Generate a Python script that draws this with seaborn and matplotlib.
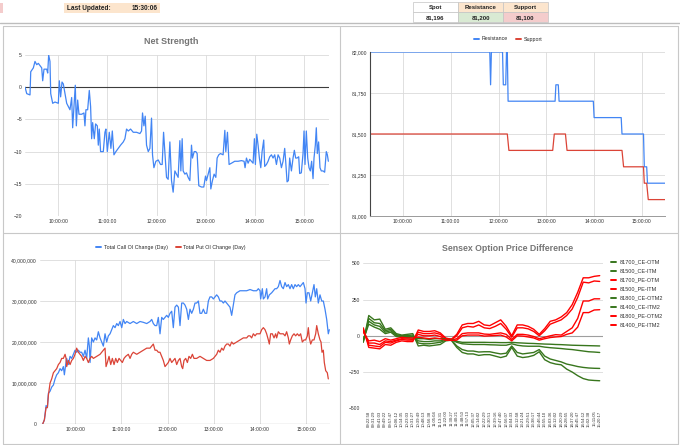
import matplotlib
matplotlib.use("Agg")
import matplotlib.pyplot as plt
import matplotlib.ticker as mticker
from matplotlib.lines import Line2D
from matplotlib.patches import Rectangle
import seaborn as sns

sns.set_theme(style="white")
plt.rcParams["font.family"] = ["Liberation Sans", "DejaVu Sans"]

# ---- data ----
# Net Strength (minutes after 09:00, value)
ns_min = [19.4, 21.4, 25.4, 26.3, 29.5, 31.5, 33.6, 35.6, 39.7, 40.9, 42.5, 45.8, 47.0, 48.2, 49.8,
          50.7, 53.1, 55.9, 60.0, 61.2, 62.8, 64.5, 66.1, 68.1, 70.2, 72.2, 74.2, 76.3, 77.5, 79.1,
          80.7, 82.0, 83.6, 85.2, 88.5, 91.3, 92.5, 93.7, 95.8, 97.8, 99.4, 100.7, 101.9, 103.9, 105.5,
          107.6, 108.8, 110.0, 111.6, 114.9, 116.9, 118.1, 119.8, 122.2, 124.2, 125.9, 127.9, 130.3,
          133.2, 136.0, 139.3, 141.3, 143.3, 145.4, 148.2, 151.5, 155.5, 159.6, 161.6, 162.8, 164.5,
          166.1, 167.7, 169.8, 171.8, 173.8, 175.0, 176.7, 179.1, 182.0, 184.8, 186.8, 188.5, 190.1,
          192.1, 194.1, 196.2, 198.2, 200.2, 202.3, 204.3, 206.3, 208.4, 209.6, 211.2, 212.4, 214.5,
          216.5, 218.5, 220.6, 222.6, 223.8, 225.9, 227.9, 229.5, 231.5, 234.8, 237.6, 239.7, 240.9,
          242.9, 245.0, 246.2, 248.2, 250.2, 252.3, 253.9, 255.9, 258.0, 261.2, 263.3, 264.5, 266.5,
          268.5, 271.4, 275.4, 279.5, 283.6, 286.8, 288.0, 289.7, 291.7, 293.7, 295.8, 297.8, 299.4,
          300.6, 302.3, 303.9, 305.5, 307.2, 308.8, 310.8, 312.0, 314.1, 316.1, 318.1, 320.2, 322.2,
          324.2, 326.3, 328.3, 330.3, 332.4, 334.4, 336.4, 337.6, 339.3, 340.9, 342.5, 344.6, 346.6,
          348.2, 349.8, 351.5, 353.5, 354.7, 356.7, 358.8, 360.0, 361.2, 362.8, 364.5, 366.1, 367.7,
          369.3, 371.0, 372.2, 373.8, 375.0, 376.2, 377.8, 379.5, 381.1, 383.2, 385.2, 387.2, 388.5,
          389.7]
ns_val = [0, -1, -1.2, 2.4, 3, 4, 3.5, 3.7, 3, 1, 2.8, 2.8, 2.2, 5, 4,
          -1, -2.5, -2.3, -2.5, 1, -1.5, 0.8, 0.5, -1, -2.5, -3, -3.5, -1.6, -6.3, -3,
          0.3, -6, -2, -4.2, -4.2, -4, -6, -3.5, -3.5, -0.5, -3, -8, -5.5, -8, -5.7,
          -6, -9, -6.5, -10, -10, -7, -6.5, -10, -7, -9.5, -6.8, -10.5, -10,
          -9.5, -9, -8.5, -8, -6.5, -6.8, -6.5, -7, -7, -7.2, -6.8, -4, -6,
          -4.5, -9, -10, -9.5, -4.8, -10.5, -12.5, -11.5, -11.3, -12, -12, -7, -10,
          -14, -14.3, -8.5, -14.5, -16.3, -13, -13.5, -14, -8.3, -13, -8, -13, -13.5,
          -13.3, -14, -14.5, -9, -11, -10, -10, -10.3, -15.3, -15.5, -15.5, -13.8, -14.5,
          -13.5, -12.5, -15.8, -14.5, -13.5, -14, -11, -10.5, -10.3, -10.5, -6.7, -10, -7,
          -12, -11.8, -11.5, -11.5, -11.4, -11.5, -12.5, -11, -11.8, -11.2, -11.5, -11.8, -8,
          -12, -7.3, -9, -11, -12.5, -10, -8.2, -12.3, -12, -11.5, -10.8, -10.5, -11,
          -10.5, -12, -10.5, -11, -12.5, -11.5, -9.5, -11.5, -14.7, -14.5, -11, -13, -11,
          -9.8, -11, -11, -10.8, -13.4, -13.3, -10.3, -6.8, -12, -6.8, -11, -12.5, -13,
          -11.5, -14.2, -11, -9, -6.3, -10.3, -8.5, -12.5, -13, -13, -13.2, -10, -10.5,
          -11.5]

# Resistance / Support levels (minutes after 09:00)
res_min = [19, 169, 170, 171, 185, 186, 189, 190, 191, 192, 251, 252, 255, 256, 299, 300,
           334, 335, 362, 363, 366, 367, 390]
res_val = [82000, 82000, 81800, 82000, 82000, 81800, 81800, 82000, 82000, 81700, 81700, 81800,
           81800, 81700, 81700, 81600, 81600, 81500, 81500, 81300, 81300, 81200, 81200]
sup_min = [19, 191, 193, 248, 250, 264, 266, 335, 337, 362, 363, 366, 368, 390]
sup_val = [81500, 81500, 81400, 81400, 81500, 81500, 81400, 81400, 81300, 81300, 81200, 81200,
           81100, 81100]

# Total Call OI change (minutes after 09:00, millions)
call_min = [17.5, 19.7, 21.9, 23.6, 24.9, 27.1, 29.2, 31.4, 33.6, 35.7, 37.9, 40.1, 42.2, 44.4,
            45.7, 47.4, 48.7, 50.9, 53.1, 55.2, 57.4, 59.6, 61.7, 63.9, 66.1, 68.2, 70.4, 72.6,
            74.7, 76.9, 78.2, 79.1, 81.2, 83.4, 85.6, 87.7, 89.9, 92.1, 96.4, 98.6, 100.7, 102.9,
            105.1, 107.3, 109.4, 111.6, 113.8, 115.9, 118.1, 120.3, 122.4, 124.6, 126.8, 131.1,
            135.4, 139.8, 144.1, 148.4, 152.8, 157.1, 159.3, 161.4, 163.6, 165.8, 167.9, 170.1,
            172.3, 174.4, 176.6, 178.8, 180.9, 183.1, 185.3, 187.4, 189.6, 191.8, 194.0, 196.1,
            198.3, 200.5, 202.6, 204.8, 207.0, 209.1, 211.3, 213.5, 215.6, 217.8, 220.0, 222.1,
            224.3, 226.5, 228.6, 230.8, 233.0, 235.1, 237.3, 239.5, 241.6, 243.8, 246.0, 248.1,
            250.3, 252.5, 254.6, 256.8, 261.1, 263.3, 265.5, 267.6, 269.8, 274.1, 278.5, 282.8,
            287.2, 291.5, 295.8, 298.0, 300.2, 301.0, 303.2, 304.5, 306.7, 308.8, 310.1, 312.3,
            315.3, 317.5, 319.7, 321.8, 324.0, 326.2, 328.3, 330.5, 332.7, 334.8, 337.0, 339.2,
            341.3, 343.5, 345.7, 347.8, 350.0, 352.2, 354.3, 356.5, 358.7, 360.0, 361.7, 363.9,
            366.1, 368.2, 370.4, 372.1, 373.9, 376.0, 378.2, 380.4, 382.5, 384.7, 386.9, 389.0,
            390.3]
call_mn = [0, 1, 4.5, 4, 7.5, 8, 9, 9.5, 11, 12, 12.5, 13.5, 13, 14,
           12, 14.5, 16, 14.5, 16.5, 16, 17, 18, 17.5, 18, 17.5, 17.5, 16.5, 18,
           16, 21, 19, 15, 21, 20, 21, 20.5, 22.5, 21, 19, 22, 20, 21.5,
           22, 23, 24, 23.5, 24.5, 24, 25, 23.5, 25.5, 24.5, 25, 24.5,
           25, 24.5, 25, 24.8, 24.5, 25, 25.5, 24.5, 24, 24, 26, 22,
           26, 25.5, 26, 26.5, 26, 27, 27.5, 23.5, 28.5, 29, 28.5, 24,
           29.5, 29.5, 29, 28, 25.5, 28, 27, 28, 29.5, 29.5, 30, 27,
           27, 28, 27, 27, 30, 31, 31, 30.5, 31, 31.5, 31, 30,
           30, 29.5, 30, 29.5, 28.5, 26.5, 29, 31.5, 32, 32.5, 32.5, 32.5,
           32.8, 32.5, 32.5, 33, 32.5, 30.5, 33, 30.5, 31, 33, 30.5, 31.5,
           32, 32.5, 33, 33, 33.5, 35, 33.5, 33, 34.5, 33.5, 34, 33,
           34, 33, 34, 33.5, 34, 33.5, 34, 34.5, 33, 29.5, 32, 32,
           30, 32, 34, 31, 33, 29.5, 31.5, 30, 30, 28, 25.5, 22,
           23]

# Total Put OI change (minutes after 09:00, millions)
put_min = [17.5, 19.7, 21.9, 23.6, 24.9, 27.1, 29.2, 31.4, 33.6, 35.7, 37.9, 40.1, 42.2, 44.4,
           46.6, 47.9, 48.7, 50.9, 53.1, 55.2, 57.4, 59.6, 61.7, 63.9, 66.1, 68.2, 70.4, 72.6,
           74.7, 76.9, 79.1, 81.2, 83.4, 87.7, 92.1, 94.2, 96.4, 98.6, 99.9, 101.6, 103.8, 106.0,
           108.1, 110.3, 112.5, 114.6, 116.8, 119.0, 121.1, 123.3, 125.5, 128.9, 131.1, 133.3,
           135.4, 139.8, 144.1, 148.4, 152.8, 157.1, 159.3, 161.4, 163.6, 165.8, 167.9, 170.1,
           172.3, 174.4, 176.6, 178.8, 180.9, 183.1, 185.3, 187.4, 189.6, 191.8, 194.0, 196.1,
           198.3, 199.6, 201.3, 203.5, 205.7, 207.8, 210.0, 212.2, 214.3, 217.8, 222.1, 226.5,
           230.8, 235.1, 239.5, 241.6, 243.8, 246.0, 248.1, 250.3, 252.5, 254.6, 256.8, 259.0,
           261.1, 263.3, 265.5, 269.8, 274.1, 278.5, 282.8, 285.0, 287.2, 289.3, 291.5, 293.7,
           295.8, 298.0, 300.2, 302.3, 304.5, 306.7, 308.8, 311.0, 312.3, 314.0, 316.2, 318.4,
           320.5, 321.8, 324.0, 326.2, 328.3, 330.5, 332.7, 334.8, 337.0, 338.3, 340.0, 342.2,
           344.4, 346.5, 348.7, 350.9, 353.0, 355.2, 357.4, 359.5, 361.7, 363.0, 364.3, 366.1,
           368.2, 370.4, 372.6, 373.9, 376.0, 378.2, 379.5, 380.8, 382.5, 383.8, 385.6, 387.7,
           389.0]
put_mn = [0, 1, 4, 4, 7, 10, 11, 12.5, 13, 13.5, 14.5, 15, 16, 16,
          17, 16, 14, 15.5, 14.5, 15.5, 16, 17, 18.5, 17.5, 17, 16.5, 15.5, 16.5,
          16, 15, 16, 16.5, 16, 16.5, 17, 17.5, 18, 18.5, 14, 15, 16.5, 14.5,
          16, 14.5, 16, 15, 16, 15.5, 15, 16, 16.5, 17, 16, 17,
          17.5, 17, 17.5, 18, 18.5, 18.5, 19, 19.5, 18, 18, 17.5, 17.5,
          16.5, 15.5, 14, 14.5, 15, 16, 15, 15.5, 16, 14.5, 15.5, 16,
          14, 13.5, 15.5, 16, 15, 16.5, 16, 17, 16, 16, 16.5, 16,
          15.5, 15.5, 16, 16.5, 17, 18, 17.5, 18.5, 18, 19, 19.5, 19.5,
          19, 20, 19.5, 20, 20.5, 21, 21, 21.5, 21.5, 21, 22, 21.5,
          22, 22, 22, 23, 23.5, 23, 22, 20.5, 19.5, 22, 22, 21,
          22, 21, 22.5, 22, 22, 22, 21.5, 22.5, 21, 19.5, 20.5, 21.5,
          22, 21.5, 22, 21.5, 22, 20, 20.5, 20.5, 21.5, 23.5, 21, 19.5,
          20.5, 20.5, 22, 24, 22, 20.5, 20, 17.5, 18, 15, 13, 12.5,
          11]

# Sensex option price difference (category axis of row timestamps)
opd_times = ["09:16:02", "09:22:58", "09:31:29", "09:41:03", "09:49:22", "09:57:47", "10:06:12",
             "10:14:35", "10:23:03", "10:31:27", "10:39:49", "10:48:13", "10:56:38", "11:05:04",
             "11:13:31", "11:22:00", "11:30:27", "11:40:21", "11:48:50", "11:57:13", "12:05:37",
             "12:14:02", "12:22:29", "12:30:51", "12:39:16", "12:47:40", "12:56:07", "13:04:33",
             "13:12:58", "13:21:24", "13:29:51", "13:38:17", "13:46:44", "13:55:10", "14:03:36",
             "14:12:02", "14:20:29", "14:28:55", "14:37:20", "14:45:47", "14:54:12", "15:02:38",
             "15:11:05", "15:20:17"]
ce_otm_81700 = [-35, 100, 75, 65, 25, 35, 2, -5, -5, -5, -35, -40, -40, -35, -35, -25, -25, -45,
                -55, -58, -60, -60, -60, -62, -63, -65, -65, -55, -65, -70, -72, -72, -72, -78,
                -82, -85, -88, -92, -95, -100, -105, -110, -112, -115]
ce_itm_81500 = [-40, 120, 90, 85, 35, 45, 8, 0, 2, 5, -50, -55, -55, -50, -45, -30, -28, -70,
                -95, -105, -105, -112, -110, -110, -118, -125, -120, -70, -115, -125, -120, -115,
                -95, -140, -160, -170, -180, -195, -203, -212, -218, -222, -224, -225]
pe_otm_81700 = [45, -65, -70, -75, -45, -50, -35, -25, -30, -30, 25, 15, 15, 20, 10, -20, -28, 0,
                55, 65, 60, 75, 55, 50, 65, 85, 45, -10, 55, 55, 48, 30, 0, 35, 80, 95, 110, 140,
                185, 265, 370, 365, 378, 375]
pe_itm_81500 = [35, -50, -50, -60, -35, -40, -30, -20, -22, -25, 10, 0, 0, 5, -5, -25, -30, -20,
                15, 20, 20, 20, 12, 10, 15, 20, 10, -25, 10, 10, 5, -5, -20, -10, 0, 8, 5, 30, 55,
                120, 240, 240, 255, 255]
ce_otm2_81800 = [-30, 80, 60, 45, 15, 25, -5, -10, -12, -15, -20, -20, -25, -20, -20, -20, -22,
                 -38, -45, -45, -45, -45, -45, -46, -46, -47, -47, -45, -48, -50, -52, -53, -55,
                 -57, -58, -60, -61, -63, -65, -66, -67, -68, -69, -70]
ce_itm2_81400 = [-45, 140, 110, 115, 45, 55, 15, 5, 10, 15, -70, -65, -70, -65, -60, -35, -30,
                 -80, -115, -125, -125, -135, -130, -130, -140, -150, -140, -80, -140, -150, -145,
                 -135, -110, -165, -185, -195, -200, -230, -250, -275, -295, -305, -308, -310]
pe_otm2_81800 = [55, -80, -85, -90, -60, -65, -45, -35, -40, -40, 40, 30, 30, 35, 20, -15, -25,
                 10, 75, 85, 85, 100, 75, 70, 90, 110, 65, 0, 75, 75, 65, 45, 10, 50, 100, 110,
                 130, 160, 215, 300, 400, 400, 410, 415]
pe_itm2_81400 = [25, -35, -30, -40, -20, -30, -20, -10, -15, -15, -10, -15, -20, -15, -20, -30,
                 -32, -30, 0, 5, 5, 5, -2, 0, 2, 5, -8, -35, 0, -2, -8, -15, -30, -20, -12, -8,
                 -5, 10, 20, 60, 160, 160, 178, 180]

hour_ticks = [60, 120, 180, 240, 300, 360]
hour_labels = ["10:00:00", "11:00:00", "12:00:00", "13:00:00", "14:00:00", "15:00:00"]

BLUE = "#4285f4"
RED = "#db4437"
GREEN = "#38761d"
BRIGHT_RED = "#ff0000"
GRID = "#dadada"
TICK = "#333333"
TITLE = "#757575"

W, H = 680, 445
fig = plt.figure(figsize=(W / 100, H / 100), dpi=100)
fig.patch.set_facecolor("white")


def fx(x):
    return x / W


def fy(y):
    return 1 - y / H


def px_rect(x0, y0, x1, y1):
    return [fx(x0), fy(y1), (x1 - x0) / W, (y1 - y0) / H]


def fig_line(x0, y0, x1, y1, color="#c8c8c8", lw=0.8):
    fig.add_artist(Line2D([fx(x0), fx(x1)], [fy(y0), fy(y1)], transform=fig.transFigure,
                          color=color, lw=lw))


def fig_cell(x0, y0, x1, y1, face, edge="#c4c4c4"):
    fig.add_artist(Rectangle((fx(x0), fy(y1)), (x1 - x0) / W, (y1 - y0) / H,
                             transform=fig.transFigure, facecolor=face, edgecolor=edge, lw=0.5))


def base_style(ax, grid_axis="both"):
    for s in ax.spines.values():
        s.set_visible(False)
    ax.tick_params(axis="both", length=0, labelsize=3.6, labelcolor=TICK, pad=2.2)
    ax.grid(True, axis=grid_axis, color=GRID, lw=0.6)
    ax.set_axisbelow(True)
    ax.set_xlabel("")
    ax.set_ylabel("")


# ---- spreadsheet strip on top ----
fig_cell(0, 3, 2.5, 13, "#f4cccc", edge="none")
fig_cell(64, 3, 160, 13, "#fce5cd", edge="none")
fig.text(fx(67), fy(8.2), "Last Updated:", fontsize=4.7, fontweight="bold", color="#222222",
         va="center", ha="left")
fig.text(fx(158), fy(8.2), "15:30:06", fontsize=4.7, fontweight="bold", color="#222222",
         va="center", ha="right")

table_cols = [(413, 458), (458, 503), (503, 548)]
table_head = ["Spot", "Resistance", "Support"]
table_vals = ["81,196", "81,200", "81,100"]
head_bg = ["white", "#fce5cd", "#fce5cd"]
val_bg = ["white", "#d9ead3", "#f4cccc"]
for (x0, x1), h, v, hb, vb in zip(table_cols, table_head, table_vals, head_bg, val_bg):
    fig_cell(x0, 2, x1, 12.3, hb)
    fig_cell(x0, 12.3, x1, 22, vb)
    fig.text(fx((x0 + x1) / 2), fy(7.3), h, fontsize=4.3, fontweight="bold", color="#222222",
             ha="center", va="center")
    fig.text(fx((x0 + x1) / 2), fy(17.3), v, fontsize=4.3, fontweight="bold", color="#222222",
             ha="center", va="center")

fig_line(0, 23.3, W, 23.3, color="#bdbdbd", lw=1.0)
# panel frames
fig_line(3, 25.5, 678, 25.5)
fig_line(3, 25.5, 3, 444)
fig_line(678, 25.5, 678, 444)
fig_line(3, 444, 678, 444)
fig_line(340, 25.5, 340, 444)
fig_line(3, 233, 678, 233)

# ---- Net Strength ----
ax1 = fig.add_axes(px_rect(25, 55, 329, 216))
sns.lineplot(x=ns_min, y=ns_val, ax=ax1, color=BLUE, lw=0.9, estimator=None, sort=False)
ax1.axhline(0, color="#3c3c3c", lw=0.8, zorder=1.5)
ax1.set_xlim(19.3, 390.5)
ax1.set_ylim(-20, 5)
ax1.set_yticks([5, 0, -5, -10, -15, -20])
ax1.set_xticks(hour_ticks, hour_labels)
base_style(ax1)
fig.text(fx(171), fy(41), "Net Strength", fontsize=6.5, fontweight="bold", color=TITLE,
         ha="center", va="center")

# ---- Resistance / Support ----
ax2 = fig.add_axes(px_rect(370, 52, 665, 216))
sns.lineplot(x=res_min, y=res_val, ax=ax2, color=BLUE, lw=0.9, label="Resistance",
             estimator=None, sort=False)
sns.lineplot(x=sup_min, y=sup_val, ax=ax2, color=RED, lw=0.9, label="Support",
             estimator=None, sort=False)
ax2.set_xlim(18.6, 389)
ax2.set_ylim(81000, 82000)
ax2.set_yticks([81000, 81250, 81500, 81750, 82000])
ax2.yaxis.set_major_formatter(mticker.FuncFormatter(lambda v, _: f"{v:,.0f}"))
ax2.set_xticks(hour_ticks, hour_labels)
base_style(ax2)
ax2.spines["left"].set_visible(True)
ax2.spines["left"].set_color("#444444")
ax2.spines["left"].set_linewidth(0.8)
ax2.spines["bottom"].set_visible(True)
ax2.spines["bottom"].set_color("#9a9a9a")
ax2.spines["bottom"].set_linewidth(0.7)
leg2 = ax2.legend(loc="center", bbox_to_anchor=(fx(508), fy(39)), bbox_transform=fig.transFigure,
                  ncol=2, frameon=False, fontsize=3.8, handlelength=0.9, handletextpad=0.5,
                  columnspacing=1.6, borderpad=0)
for ln in leg2.get_lines():
    ln.set_linewidth(1.4)

# ---- Call / Put OI change ----
ax3 = fig.add_axes(px_rect(40, 260, 330, 424))
sns.lineplot(x=call_min, y=call_mn, ax=ax3, color=BLUE, lw=0.9, label="Total Call OI Change (Day)",
             estimator=None, sort=False)
sns.lineplot(x=put_min, y=put_mn, ax=ax3, color=RED, lw=0.9, label="Total Put OI Change (Day)",
             estimator=None, sort=False)
ax3.axhline(0, color="#3c3c3c", lw=0.8, zorder=1.5)
ax3.set_xlim(14, 391.2)
ax3.set_ylim(0, 40)
ax3.set_yticks([0, 10, 20, 30, 40])
ax3.yaxis.set_major_formatter(mticker.FuncFormatter(lambda v, _: f"{v * 1e6:,.0f}"))
ax3.set_xticks(hour_ticks, hour_labels)
base_style(ax3)
leg3 = ax3.legend(loc="center", bbox_to_anchor=(fx(171), fy(247.5)), bbox_transform=fig.transFigure,
                  ncol=2, frameon=False, fontsize=3.8, handlelength=0.9, handletextpad=0.5,
                  columnspacing=1.6, borderpad=0)
for ln in leg3.get_lines():
    ln.set_linewidth(1.4)

# ---- Sensex Option Price Difference ----
ax4 = fig.add_axes(px_rect(363, 263.3, 603, 408.3))
opd_series = [
    ("81700_CE-OTM", ce_otm_81700, GREEN),
    ("81500_CE-ITM", ce_itm_81500, GREEN),
    ("81700_PE-OTM", pe_otm_81700, BRIGHT_RED),
    ("81500_PE-ITM", pe_itm_81500, BRIGHT_RED),
    ("81800_CE-OTM2", ce_otm2_81800, GREEN),
    ("81400_CE-ITM2", ce_itm2_81400, GREEN),
    ("81800_PE-OTM2", pe_otm2_81800, BRIGHT_RED),
    ("81400_PE-ITM2", pe_itm2_81400, BRIGHT_RED),
]
idx = list(range(len(opd_times)))
for name, vals, col in opd_series:
    sns.lineplot(x=idx, y=vals, ax=ax4, color=col, lw=1.0, label=name, estimator=None, sort=False)
ax4.axhline(0, color="#9e9e9e", lw=0.8, zorder=1.5)
ax4.set_xlim(-0.05, len(opd_times) - 0.4)
ax4.set_ylim(-500, 500)
ax4.set_yticks([500, 250, 0, -250, -500])
base_style(ax4, grid_axis="y")
ax4.set_xticks(idx[1:], opd_times[1:], rotation=90)
ax4.tick_params(axis="x", labelsize=3.1, pad=1.5)
fig.text(fx(507.5), fy(249), "Sensex Option Price Difference", fontsize=6.3, fontweight="bold",
         color=TITLE, ha="center", va="center")
leg4 = ax4.legend(loc="upper left", bbox_to_anchor=(fx(611), fy(259.5)), bbox_transform=fig.transFigure,
                  frameon=False, fontsize=4, handlelength=0.9, handletextpad=0.6, labelspacing=0.72,
                  borderaxespad=0, borderpad=0)
for ln in leg4.get_lines():
    ln.set_linewidth(1.4)
for t in leg4.get_texts():
    t.set_color("#333333")

fig.savefig("out.png", dpi=100, facecolor="white")
